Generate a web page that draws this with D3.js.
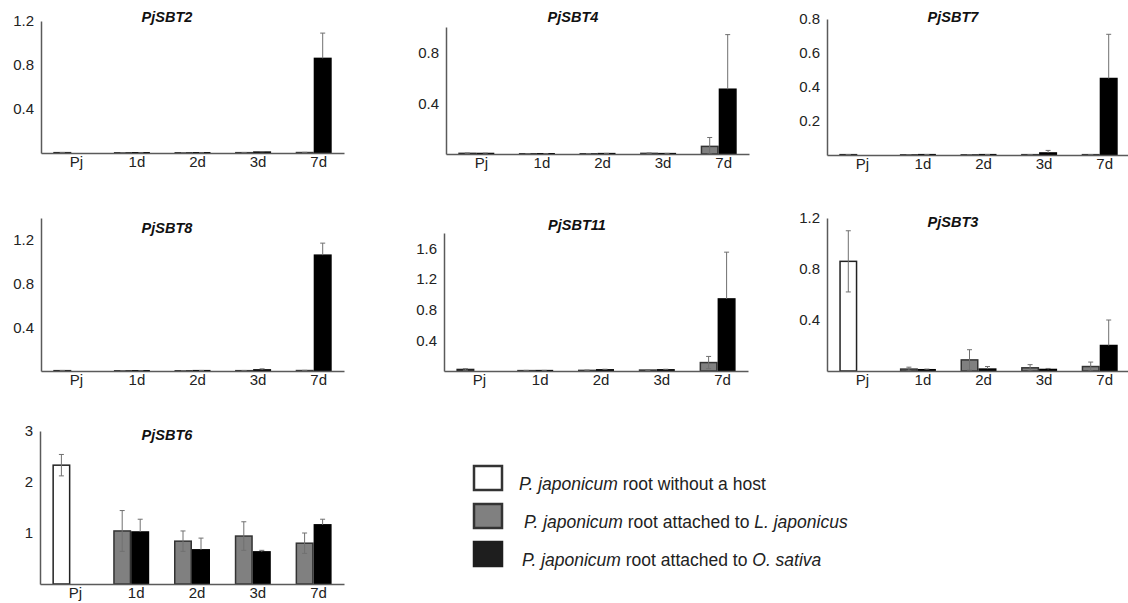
<!DOCTYPE html>
<html><head><meta charset="utf-8">
<script src="https://cdn.jsdelivr.net/npm/d3@7"></script>
<style>body{margin:0;background:#fff}svg{display:block;font-family:"Liberation Sans",Arial,sans-serif}</style>
</head><body><svg id="c" width="1128" height="603"></svg>
<script>
const categories = ["Pj","1d","2d","3d","7d"];
const seriesNames = ["without a host","L. japonicus","O. sativa"];

// per gene: white (no host, Pj only), grey (L. japonicus), black (O. sativa) means and SDs
const SBT2_white = [0.003,null,null,null,null], SBT2_whiteErr = [0.002,null,null,null,null];
const SBT2_grey  = [null,0.002,0.002,0.003,0.004], SBT2_greyErr = [null,0.001,0.001,0.002,0.002];
const SBT2_black = [null,0.002,0.002,0.008,0.86], SBT2_blackErr = [null,0.001,0.001,0.004,0.23];

const SBT4_white = [0.005,null,null,null,null], SBT4_whiteErr = [0.003,null,null,null,null];
const SBT4_grey  = [null,0.002,0.002,0.005,0.06], SBT4_greyErr = [null,0.001,0.002,0.003,0.07];
const SBT4_black = [0.004,0.002,0.003,0.003,0.51], SBT4_blackErr = [0.003,0.001,0.002,0.002,0.43];

const SBT7_white = [0.002,null,null,null,null], SBT7_whiteErr = [0.001,null,null,null,null];
const SBT7_grey  = [null,0.001,0.001,0.002,0.002], SBT7_greyErr = [null,0.001,0.001,0.001,0.001];
const SBT7_black = [null,0.002,0.002,0.012,0.45], SBT7_blackErr = [null,0.001,0.001,0.015,0.26];

const SBT8_white = [0.003,null,null,null,null], SBT8_whiteErr = [0.002,null,null,null,null];
const SBT8_grey  = [null,0.002,0.002,0.003,0.004], SBT8_greyErr = [null,0.001,0.001,0.002,0.002];
const SBT8_black = [null,0.002,0.003,0.01,1.06], SBT8_blackErr = [null,0.001,0.002,0.01,0.11];

const SBT11_white = [0.02,null,null,null,null], SBT11_whiteErr = [0.01,null,null,null,null];
const SBT11_grey  = [null,0.005,0.008,0.012,0.11], SBT11_greyErr = [null,0.003,0.004,0.006,0.08];
const SBT11_black = [null,0.005,0.015,0.015,0.94], SBT11_blackErr = [null,0.003,0.008,0.008,0.61];

const SBT3_white = [0.86,null,null,null,null], SBT3_whiteErr = [0.24,null,null,null,null];
const SBT3_grey  = [null,0.015,0.087,0.025,0.035], SBT3_greyErr = [null,0.015,0.08,0.025,0.035];
const SBT3_black = [null,0.01,0.015,0.012,0.2], SBT3_blackErr = [null,0.005,0.02,0.008,0.2];

const SBT6_white = [2.33,null,null,null,null], SBT6_whiteErr = [0.21,null,null,null,null];
const SBT6_grey  = [null,1.04,0.84,0.94,0.8], SBT6_greyErr = [null,0.4,0.2,0.28,0.2];
const SBT6_black = [null,1.02,0.67,0.63,1.16], SBT6_blackErr = [null,0.25,0.23,0.03,0.11];

const yTicks_SBT2 = [0.4,0.8,1.2], yTicks_SBT4 = [0.4,0.8], yTicks_SBT7 = [0.2,0.4,0.6,0.8];
const yTicks_SBT8 = [0.4,0.8,1.2], yTicks_SBT11 = [0.4,0.8,1.2,1.6], yTicks_SBT3 = [0.4,0.8,1.2];
const yTicks_SBT6 = [1,2,3];
const yMax = {SBT2:1.2, SBT4:1.0, SBT7:0.8, SBT8:1.4, SBT11:1.8, SBT3:1.2, SBT6:3};

// layout (positions only)
const panels = [
  {name:"PjSBT2", w:SBT2_white, we:SBT2_whiteErr, g:SBT2_grey, ge:SBT2_greyErr, b:SBT2_black, be:SBT2_blackErr, ticks:yTicks_SBT2, max:yMax.SBT2, x0:41, x1:344, top:21, base:153, tx:167, ty:17},
  {name:"PjSBT4", w:SBT4_white, we:SBT4_whiteErr, g:SBT4_grey, ge:SBT4_greyErr, b:SBT4_black, be:SBT4_blackErr, ticks:yTicks_SBT4, max:yMax.SBT4, x0:446, x1:749, top:27, base:154, tx:573, ty:17},
  {name:"PjSBT7", w:SBT7_white, we:SBT7_whiteErr, g:SBT7_grey, ge:SBT7_greyErr, b:SBT7_black, be:SBT7_blackErr, ticks:yTicks_SBT7, max:yMax.SBT7, x0:827, x1:1130, top:19, base:155, tx:953, ty:17},
  {name:"PjSBT8", w:SBT8_white, we:SBT8_whiteErr, g:SBT8_grey, ge:SBT8_greyErr, b:SBT8_black, be:SBT8_blackErr, ticks:yTicks_SBT8, max:yMax.SBT8, x0:41, x1:344, top:218, base:371, tx:167, ty:228},
  {name:"PjSBT11", w:SBT11_white, we:SBT11_whiteErr, g:SBT11_grey, ge:SBT11_greyErr, b:SBT11_black, be:SBT11_blackErr, ticks:yTicks_SBT11, max:yMax.SBT11, x0:444, x1:748, top:233, base:371, tx:577, ty:225},
  {name:"PjSBT3", w:SBT3_white, we:SBT3_whiteErr, g:SBT3_grey, ge:SBT3_greyErr, b:SBT3_black, be:SBT3_blackErr, ticks:yTicks_SBT3, max:yMax.SBT3, x0:827, x1:1130, top:218, base:371, tx:953, ty:222},
  {name:"PjSBT6", w:SBT6_white, we:SBT6_whiteErr, g:SBT6_grey, ge:SBT6_greyErr, b:SBT6_black, be:SBT6_blackErr, ticks:yTicks_SBT6, max:yMax.SBT6, x0:40, x1:344, top:431, base:584, tx:167, ty:435}
];

const svg = d3.select("#c");
const BW = 18;
const axisColor = "#5a5a5a";
const errColor = "#707070";

panels.forEach(p => {
  const g = svg.append("g");
  const x = d3.scaleBand().domain(categories).range([p.x0, p.x1]).padding(0);
  const y = d3.scaleLinear().domain([0, p.max]).range([p.base, p.top]);

  // bars: slot 0 = white or grey, slot 1 = black
  const series = [
    {vals:p.w, errs:p.we, slot:0, fill:"#ffffff", stroke:"#222", lower:true},
    {vals:p.g, errs:p.ge, slot:0, fill:"#808080", stroke:"#333", lower:true},
    {vals:p.b, errs:p.be, slot:1, fill:"#000000", stroke:"#000", lower:false}
  ];
  series.forEach(s => {
    const data = categories.map((c,i)=>({c, v:s.vals[i], e:s.errs[i]})).filter(d=>d.v!=null);
    const bx = d => x(d.c) + x.bandwidth()/2 - BW + s.slot*BW;
    g.selectAll(null).data(data).enter().append("rect")
      .attr("x", d=>bx(d)+0.75).attr("width", BW-1.5)
      .attr("y", d=>y(d.v)).attr("height", d=>Math.max(0, y(0)-y(d.v)))
      .attr("fill", s.fill).attr("stroke", s.stroke).attr("stroke-width", 1.5);
    const ed = data.filter(d=>d.e!=null);
    const cx = d => bx(d)+BW/2;
    g.selectAll(null).data(ed).enter().append("line")
      .attr("x1", cx).attr("x2", cx)
      .attr("y1", d=>y(d.v+d.e)).attr("y2", d=> s.lower ? y(Math.max(0,d.v-d.e)) : y(d.v))
      .attr("stroke", errColor).attr("stroke-width", 1);
    g.selectAll(null).data(ed).enter().append("line")
      .attr("x1", d=>cx(d)-2.5).attr("x2", d=>cx(d)+2.5)
      .attr("y1", d=>y(d.v+d.e)).attr("y2", d=>y(d.v+d.e))
      .attr("stroke", errColor).attr("stroke-width", 1);
    if (s.lower) {
      g.selectAll(null).data(ed).enter().append("line")
        .attr("x1", d=>cx(d)-2.5).attr("x2", d=>cx(d)+2.5)
        .attr("y1", d=>y(Math.max(0,d.v-d.e))).attr("y2", d=>y(Math.max(0,d.v-d.e)))
        .attr("stroke", errColor).attr("stroke-width", 1);
    }
  });

  // axes
  const ya = g.append("g").attr("transform", `translate(${p.x0},0)`)
    .call(d3.axisLeft(y).tickValues(p.ticks).tickSize(0).tickSizeOuter(0).tickPadding(7).tickFormat(d3.format("")));
  ya.select(".domain").attr("stroke", axisColor).attr("stroke-width", 1.5);
  ya.selectAll("text").attr("font-size", 15).attr("fill", "#222").attr("font-family", "Liberation Sans, Arial, sans-serif");

  const xa = g.append("g").attr("transform", `translate(0,${p.base})`)
    .call(d3.axisBottom(x).tickSize(0).tickSizeOuter(0).tickPadding(3));
  xa.select(".domain").attr("stroke", axisColor).attr("stroke-width", 1.5);
  xa.selectAll("text").attr("font-size", 15).attr("fill", "#222").attr("dx", 5)
    .attr("font-family", "Liberation Sans, Arial, sans-serif");

  g.append("text").attr("x", p.tx).attr("y", p.ty).attr("dy", "0.35em")
    .attr("text-anchor", "middle").attr("font-size", 14.5).attr("font-weight", "bold")
    .attr("font-style", "italic").attr("fill", "#111").text(p.name);
});

// legend
const legendItems = [
  {fill:"#ffffff", parts:[["P. japonicum",true],[" root without a host",false]], tx:519},
  {fill:"#808080", parts:[["P. japonicum",true],[" root attached to ",false],["L. japonicus",true]], tx:524},
  {fill:"#1e1e1e", parts:[["P. japonicum",true],[" root attached to ",false],["O. sativa",true]], tx:522}
];
const ly = d3.scalePoint().domain(seriesNames).range([478, 554]);
legendItems.forEach((it, i) => {
  const cy = ly(seriesNames[i]);
  svg.append("rect").attr("x", 474).attr("y", cy-12).attr("width", 28).attr("height", 24)
    .attr("fill", it.fill).attr("stroke", i===2 ? "#1e1e1e" : "#333").attr("stroke-width", 2.5);
  const t = svg.append("text").attr("x", it.tx).attr("y", cy+12).attr("font-size", 17.5).attr("fill", "#222");
  it.parts.forEach(([s, ital]) => t.append("tspan").attr("font-style", ital ? "italic" : "normal").text(s));
});
</script></body></html>
